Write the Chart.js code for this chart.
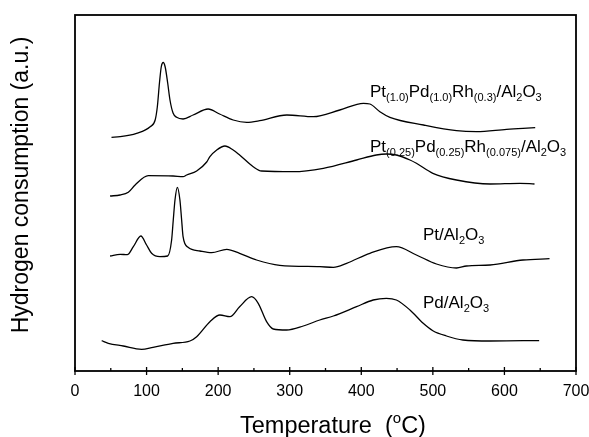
<!DOCTYPE html>
<html>
<head>
<meta charset="utf-8">
<script src="https://cdn.jsdelivr.net/npm/chart.js@4/dist/chart.umd.min.js"></script>
<style>
  html, body { margin: 0; padding: 0; background: #fff; }
  #wrap { width: 589px; height: 437px; }
</style>
</head>
<body>
<div id="wrap"><canvas id="tpr"></canvas></div>
<script>
const FONT = '"Liberation Sans", Arial, sans-serif';

// Pt(1.0)Pd(1.0)Rh(0.3)/Al2O3
const trimetalHighT = [51, 63, 86, 105, 112, 115, 118, 120.5, 123.3, 126, 129.5, 132.7, 137, 142, 151, 165, 186, 202, 221, 240, 258, 296, 333, 370, 403, 412, 426, 440, 487, 533, 561, 603, 626, 643];
const trimetalHighH2 = [233.7, 234.3, 237.7, 244.3, 251, 264, 288, 304, 308.5, 304, 288, 271, 258, 253.7, 252, 256, 262, 257, 251, 248.7, 250.3, 256, 254.3, 261, 267.7, 267, 259.3, 253.7, 246, 240.3, 239.3, 241.7, 242.7, 243.3];

// Pt(0.25)Pd(0.25)Rh(0.075)/Al2O3
const trimetalLowT = [49, 63, 74.5, 84, 102.4, 137, 151, 156, 170, 184, 188.5, 198, 209.5, 221, 230, 249, 260.7, 305, 347, 393.4, 421, 435, 449, 468, 477, 500, 533, 580, 621.5, 642];
const trimetalLowH2 = [175, 176, 178.7, 186, 195.3, 195, 194.3, 196, 200, 209, 214.3, 221, 225, 221, 216, 204.3, 200, 199.3, 202.7, 211, 216, 217, 216, 211, 207.7, 197.7, 191, 187, 187.7, 187];

// Pt/Al2O3
const ptT = [49, 63, 73, 81.5, 92, 100, 107, 118.7, 129.5, 135, 137.3, 139.7, 143, 146.6, 149, 151, 158, 174.6, 191, 212, 230, 253.7, 286, 342, 361, 379.5, 412, 449, 477, 505, 533, 547, 580, 626, 663];
const ptH2 = [115, 116.7, 116.3, 124.3, 135, 126, 117.7, 114.3, 115, 131, 151, 171, 183.7, 171, 151, 134.3, 123.7, 120, 118.3, 121.7, 117.7, 111, 105.7, 104.3, 103.7, 107.7, 117.7, 124.3, 116, 107, 103, 105, 106, 111, 112.3];

// Pd/Al2O3
const pdT = [37.3, 46.5, 67.5, 93, 109, 137, 160.6, 170, 188.5, 202.5, 216.5, 230, 246.8, 256, 267.7, 277, 295.6, 319, 342, 361, 393.4, 416.6, 435, 449, 468, 486.5, 500, 519, 542, 580, 626, 648.5];
const pdH2 = [30.3, 27.7, 25, 21.7, 23.7, 27.7, 30, 34.3, 49.3, 56, 54.3, 64.3, 74.3, 67.7, 49.3, 42, 41, 45, 51, 55, 64.3, 71, 72.7, 71, 61, 47.7, 40.3, 35, 31, 30, 30.3, 30.3];

const xTicks = [0, 100, 200, 300, 400, 500, 600, 700];

// label pieces: [text, isSubscript]
const seriesLabels = [
  { at: [370, 96.5], parts: [['Pt', 0], ['(1.0)', 1], ['Pd', 0], ['(1.0)', 1], ['Rh', 0], ['(0.3)', 1], ['/Al', 0], ['2', 1], ['O', 0], ['3', 1]] },
  { at: [370, 151.5], parts: [['Pt', 0], ['(0.25)', 1], ['Pd', 0], ['(0.25)', 1], ['Rh', 0], ['(0.075)', 1], ['/Al', 0], ['2', 1], ['O', 0], ['3', 1]] },
  { at: [423, 240], parts: [['Pt/Al', 0], ['2', 1], ['O', 0], ['3', 1]] },
  { at: [423, 308], parts: [['Pd/Al', 0], ['2', 1], ['O', 0], ['3', 1]] },
];

function toPoints(xs, ys) {
  return xs.map((x, i) => ({ x: x, y: ys[i] }));
}

function curve(xs, ys) {
  return {
    data: toPoints(xs, ys),
    borderColor: '#000',
    borderWidth: 1.3,
    pointRadius: 0,
    fill: false,
    cubicInterpolationMode: 'monotone',
  };
}

const framePlugin = {
  id: 'frame',
  afterDraw(chart) {
    const { ctx, chartArea } = chart;
    const { left, right, top, bottom } = chartArea;
    const xs = chart.scales.x;
    ctx.save();

    ctx.strokeStyle = '#000';
    ctx.lineWidth = 1.8;
    ctx.strokeRect(left, top, right - left, bottom - top);

    // ticks: major cross the axis, minor point inward
    ctx.lineWidth = 1.3;
    for (let t = 0; t <= 700; t += 50) {
      const px = xs.getPixelForValue(t);
      ctx.beginPath();
      if (t % 100 === 0) {
        ctx.moveTo(px, bottom - 4);
        ctx.lineTo(px, bottom + 4);
      } else {
        ctx.moveTo(px, bottom - 3);
        ctx.lineTo(px, bottom);
      }
      ctx.stroke();
    }

    ctx.fillStyle = '#000';
    ctx.textBaseline = 'alphabetic';
    ctx.textAlign = 'left';

    seriesLabels.forEach((lab) => {
      let x = lab.at[0];
      const y = lab.at[1];
      lab.parts.forEach(([txt, sub]) => {
        ctx.font = (sub ? '11px ' : '17px ') + FONT;
        ctx.fillText(txt, x, sub ? y + 4 : y);
        x += ctx.measureText(txt).width;
      });
    });

    // x title with superscript o
    let tx = 240;
    const ty = 433;
    ctx.font = '23.5px ' + FONT;
    ctx.fillText('Temperature  (', tx, ty);
    tx += ctx.measureText('Temperature  (').width;
    ctx.font = '15px ' + FONT;
    ctx.fillText('o', tx, ty - 10);
    tx += ctx.measureText('o').width;
    ctx.font = '23.5px ' + FONT;
    ctx.fillText('C)', tx, ty);

    // y title
    ctx.save();
    ctx.translate(22, 185);
    ctx.rotate(-Math.PI / 2);
    ctx.textAlign = 'center';
    ctx.textBaseline = 'middle';
    ctx.font = '23px ' + FONT;
    ctx.fillText('Hydrogen consumption (a.u.)', 0, 0);
    ctx.restore();

    ctx.restore();
  }
};

new Chart(document.getElementById('tpr'), {
  type: 'line',
  data: {
    datasets: [
      curve(trimetalHighT, trimetalHighH2),
      curve(trimetalLowT, trimetalLowH2),
      curve(ptT, ptH2),
      curve(pdT, pdH2),
    ],
  },
  options: {
    responsive: true,
    maintainAspectRatio: false,
    animation: false,
    layout: { padding: { left: 75, right: 13, top: 15, bottom: 0 } },
    scales: {
      x: {
        type: 'linear',
        min: 0,
        max: 700,
        afterBuildTicks: (s) => { s.ticks = xTicks.map((v) => ({ value: v })); },
        afterFit: (s) => { s.height = 66; s.paddingLeft = 0; s.paddingRight = 0; },
        grid: { display: false },
        border: { display: false },
        ticks: { color: '#000', font: { size: 16, family: FONT }, padding: 3, maxRotation: 0 },
      },
      y: {
        display: false,
        min: 0,
        max: 356,
      },
    },
    plugins: {
      legend: { display: false },
      tooltip: { enabled: false },
    },
  },
  plugins: [framePlugin],
});
</script>
</body>
</html>
